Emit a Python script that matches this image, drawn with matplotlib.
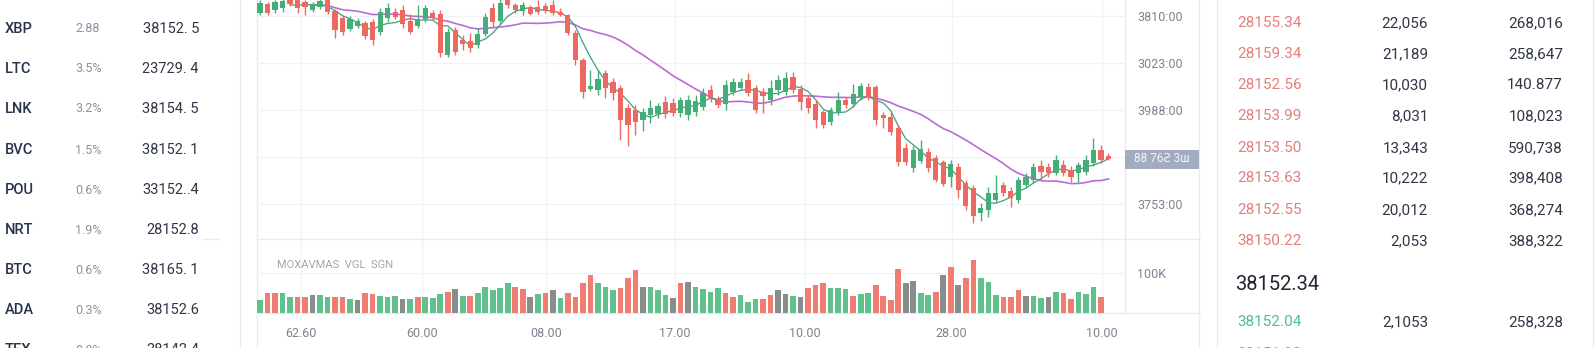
import matplotlib.pyplot as plt
from matplotlib.patches import Rectangle
from matplotlib.transforms import blended_transform_factory
import numpy as np
import pandas as pd

plt.rcParams['font.family'] = ['Roboto', 'DejaVu Sans']

W, H = 1596, 348

# watchlist on the left
symbols = ['XBP', 'LTC', 'LNK', 'BVC', 'POU', 'NRT', 'BTC', 'ADA', 'TEX']
changes = ['2.88', '3.5%', '3.2%', '1.5%', '0.6%', '1.9%', '0.6%', '0.3%', '0.8%']
last_prices = ['38152. 5', '23729. 4', '38154. 5', '38152. 1', '33152..4',
               '28152.8', '38165. 1', '38152.6', '38142.4']

# order book on the right
ask_prices = ['28155.34', '28159.34', '28152.56', '28153.99', '28153.50',
              '28153.63', '28152.55', '38150.22']
ask_sizes = ['22,056', '21,189', '10,030', '8,031', '13,343', '10,222', '20,012', '2,053']
ask_totals = ['268,016', '258,647', '140.877', '108,023', '590,738', '398,408',
              '368,274', '388,322']
mid_price = '38152.34'
bid_prices = ['38152.04', '38151.90']
bid_sizes = ['2,1053', '1,982']
bid_totals = ['258,328', '246,105']

# candles
opens = [3887, 3896, 3890, 3892, 3900, 3900, 3898, 3890, 3893, 3900,
         3889, 3882, 3871, 3874, 3877, 3878, 3868, 3882, 3888, 3890,
         3879, 3874, 3881, 3887, 3886, 3845, 3870, 3860, 3859, 3855,
         3866, 3892, 3879, 3900, 3895, 3889, 3893, 3893, 3894, 3895,
         3888, 3885, 3867, 3840, 3811, 3810, 3827, 3818, 3812, 3792,
         3790, 3780, 3785, 3786, 3798, 3797, 3787, 3785, 3788, 3793,
         3810, 3801, 3796, 3808, 3812, 3820, 3812, 3808, 3800, 3810,
         3808, 3823, 3811, 3802, 3796, 3788, 3778, 3788, 3800, 3796,
         3803, 3813, 3813, 3785, 3783, 3772, 3752, 3732, 3739, 3748,
         3742, 3738, 3723, 3733, 3717, 3712, 3687, 3690, 3700, 3715,
         3709, 3700, 3715, 3720, 3734, 3733, 3727, 3735, 3730, 3727,
         3728, 3737, 3750, 3744]
closes = [3897, 3887, 3898, 3899, 3896, 3892, 3893, 3896, 3899, 3888,
          3870, 3868, 3881, 3879, 3864, 3860, 3888, 3892, 3883, 3876,
          3868, 3881, 3892, 3883, 3847, 3868, 3848, 3856, 3852, 3866,
          3883, 3878, 3897, 3895, 3890, 3895, 3886, 3888, 3889, 3887,
          3885, 3867, 3840, 3808, 3814, 3821, 3812, 3807, 3780, 3775,
          3778, 3788, 3792, 3794, 3786, 3787, 3800, 3800, 3799, 3807,
          3802, 3795, 3815, 3818, 3818, 3807, 3790, 3804, 3812, 3820,
          3822, 3810, 3798, 3792, 3780, 3775, 3790, 3800, 3795, 3806,
          3814, 3803, 3780, 3782, 3768, 3738, 3738, 3750, 3751, 3732,
          3720, 3716, 3736, 3710, 3694, 3684, 3692, 3707, 3707, 3707,
          3702, 3720, 3723, 3733, 3728, 3727, 3740, 3727, 3723, 3735,
          3740, 3750, 3740, 3741]
highs = [3900, 3898, 3900, 3902, 3905, 3903, 3900, 3898, 3902, 3903,
         3891, 3885, 3884, 3882, 3879, 3881, 3892, 3897, 3892, 3895,
         3886, 3895, 3895, 3890, 3890, 3872, 3873, 3865, 3867, 3872,
         3887, 3897, 3902, 3904, 3897, 3898, 3895, 3900, 3897, 3900,
         3892, 3886, 3870, 3842, 3830, 3830, 3830, 3822, 3815, 3796,
         3795, 3792, 3800, 3797, 3804, 3802, 3803, 3805, 3805, 3812,
         3815, 3804, 3820, 3822, 3822, 3827, 3815, 3812, 3820, 3825,
         3828, 3828, 3815, 3805, 3800, 3790, 3793, 3808, 3803, 3816,
         3817, 3817, 3815, 3788, 3788, 3775, 3757, 3754, 3760, 3752,
         3745, 3740, 3740, 3737, 3720, 3715, 3697, 3713, 3725, 3718,
         3713, 3723, 3727, 3737, 3740, 3737, 3745, 3740, 3734, 3738,
         3745, 3762, 3755, 3747]
lows = [3885, 3885, 3887, 3888, 3894, 3887, 3885, 3888, 3891, 3886,
        3862, 3865, 3869, 3872, 3861, 3855, 3865, 3878, 3881, 3872,
        3866, 3872, 3878, 3880, 3843, 3843, 3845, 3850, 3848, 3852,
        3864, 3873, 3876, 3892, 3887, 3885, 3885, 3886, 3887, 3885,
        3884, 3865, 3835, 3802, 3809, 3805, 3802, 3800, 3760, 3754,
        3765, 3769, 3777, 3782, 3782, 3784, 3783, 3780, 3784, 3790,
        3798, 3792, 3790, 3805, 3810, 3804, 3787, 3787, 3795, 3805,
        3805, 3807, 3790, 3787, 3772, 3772, 3775, 3785, 3792, 3793,
        3800, 3800, 3775, 3772, 3765, 3734, 3735, 3728, 3737, 3728,
        3718, 3714, 3713, 3702, 3690, 3677, 3679, 3683, 3698, 3704,
        3693, 3697, 3712, 3717, 3720, 3723, 3725, 3724, 3718, 3718,
        3725, 3734, 3737, 3740]

# volume in thousands, with the side of each bar (g buy, r sell, n neutral)
volumes = [32, 50, 50, 50, 40, 40, 40, 45, 45, 40, 40, 40, 35, 32, 50, 48, 42, 40, 42, 35,
           35, 40, 40, 38, 48, 52, 60, 42, 42, 50, 65, 58, 62, 75, 65, 60, 40, 48, 50, 58,
           38, 50, 40, 75, 95, 75, 65, 58, 62, 88, 108, 65, 65, 58, 45, 38, 75, 78, 65,
           60, 52, 62, 50, 40, 45, 28, 35, 35, 45, 58, 48, 42, 40, 62, 70, 75, 62, 62, 60,
           42, 48, 50, 70, 42, 32, 110, 75, 80, 50, 45, 52, 95, 115, 70, 88, 132, 88, 78, 45,
           40, 40, 58, 42, 42, 38, 40, 52, 50, 35, 52, 48, 65, 40]
vol_side = ('g r r g g r r n g g r r g n r r g g g n g r g g g r n g r g g g g g r r n g r n '
            'g r r r r g g g r r r n g g g n r n g '
            'g g g r r g g g r r n n g n r r r g g g r g g r r r r n n g g r n r n r r g g g '
            'r r r n g g n g r r g g g r').split()

price_ticks = [3884, 3837, 3790, 3743, 3696]
price_tick_labels = ['3810:00', '3023:00', '3988:00', '', '3753:00']
tag_price = 3741
tag_label = '88 76Ƨ 3ш'

time_ticks = [5.5, 21.6, 38.1, 55.3, 72.6, 92.1, 112.1]
time_labels = ['62.60', '60.00', '08.00', '17.00', '10.00', '28.00', '10.00']

UP = '#45ad78'
DOWN = '#ec6861'
VOL_COLORS = {'g': '#62c08d', 'r': '#ef7d72', 'n': '#868d8a'}
LINE = '#e9ebef'
GRID = '#f1f2f5'
AXIS_TXT = '#7d8391'

fig = plt.figure(figsize=(W / 100, H / 100), dpi=100)
fig.patch.set_facecolor('white')

# pixel-space layer for panel borders and side tables
bg = fig.add_axes([0, 0, 1, 1], zorder=0)
bg.set_xlim(0, W)
bg.set_ylim(H, 0)
bg.axis('off')

for x, y0, y1 in [(240, 0, H), (257, 0, H), (1125, 0, 313), (1199, 0, H), (1217, 0, H), (1593, 0, H)]:
    bg.plot([x, x], [y0, y1], color=LINE, lw=1)
for y, x0, x1 in [(239, 257, 1199), (313, 257, 1199), (239, 203, 218)]:
    bg.plot([x0, x1], [y, y], color=LINE, lw=1)

row_y = [29, 69, 109, 150, 190, 230, 270, 310, 350]
for y, s, ch, p in zip(row_y, symbols, changes, last_prices):
    bg.text(5, y, s, fontsize=10.5, color='#27324a', va='center', ha='left', weight='medium')
    bg.text(75, y, ch, fontsize=9, color='#8b919d', va='center', ha='left')
    bg.text(199, y, p, fontsize=10.5, color='#2f3645', va='center', ha='right')

ask_y = [23, 54, 85, 116, 148, 178, 210, 241]
for y, p, s, t in zip(ask_y, ask_prices, ask_sizes, ask_totals):
    bg.text(1237, y, p, fontsize=11, color='#e2807c', va='center', ha='left')
    bg.text(1428, y, s, fontsize=11, color='#2f3645', va='center', ha='right')
    bg.text(1563, y, t, fontsize=11, color='#2f3645', va='center', ha='right')
bg.text(1235, 285, mid_price, fontsize=14.5, color='#1f2533', va='center', ha='left')
for y, p, s, t in zip([322, 354], bid_prices, bid_sizes, bid_totals):
    bg.text(1237, y, p, fontsize=11, color='#4fc08d', va='center', ha='left')
    bg.text(1428, y, s, fontsize=11, color='#2f3645', va='center', ha='right')
    bg.text(1563, y, t, fontsize=11, color='#2f3645', va='center', ha='right')

# price panel
ax = fig.add_axes([257 / W, 1 - 239 / H, 868 / W, 239 / H], zorder=2)
# volume panel
vax = fig.add_axes([257 / W, 1 - 313 / H, 868 / W, 74 / H], zorder=2, sharex=ax)
for a in (ax, vax):
    a.set_facecolor('none')
    for sp in a.spines.values():
        sp.set_visible(False)

o = np.array(opens, dtype=float)
c = np.array(closes, dtype=float)
hi = np.array(highs, dtype=float)
lo = np.array(lows, dtype=float)
idx = np.arange(len(o))
col = np.where(c >= o, UP, DOWN)

ax.vlines(idx, lo, hi, colors=col, lw=1, zorder=3)
ax.bar(idx, np.maximum(np.abs(c - o), 1.5), bottom=np.minimum(o, c), width=0.7,
       color=col, zorder=4)

close_s = pd.Series(closes, dtype=float)
ax.plot(idx, close_s.rolling(20, min_periods=8).mean(), color='#bb6bd6', lw=1.2, zorder=2)
ax.plot(idx, close_s.rolling(5).mean(), color='#3f9f7b', lw=0.9, zorder=2)

ax.set_xlim(-0.4, 115.2)
ax.set_ylim(3661, 3900)
ax.yaxis.tick_right()
ax.set_yticks(price_ticks)
ax.set_yticklabels(price_tick_labels)
ax.tick_params(axis='y', length=0, pad=9, labelsize=9, labelcolor=AXIS_TXT)
ax.tick_params(axis='x', length=0, labelbottom=False)
ax.grid(True, color=GRID, lw=0.9)
ax.set_axisbelow(True)

# last-price tag on the axis
tr = blended_transform_factory(ax.transAxes, ax.transData)
ax.add_patch(Rectangle((1.0, tag_price - 9.5), 74 / 868, 19, transform=tr,
                       facecolor='#a3abbe', edgecolor='none', clip_on=False, zorder=5))
ax.text(1.0 + 37 / 868, tag_price, tag_label, transform=tr, ha='center', va='center',
        fontsize=8.5, color='#f3f5f9', zorder=6)

vidx = np.arange(len(volumes))
vax.bar(vidx, volumes, width=0.75, color=[VOL_COLORS[s] for s in vol_side], zorder=3)
vax.set_ylim(0, 185)
vax.yaxis.tick_right()
vax.set_yticks([100])
vax.set_yticklabels(['100K'])
vax.tick_params(axis='y', length=0, pad=9, labelsize=9, labelcolor=AXIS_TXT)
vax.set_xticks(time_ticks)
vax.set_xticklabels(time_labels)
vax.tick_params(axis='x', length=0, pad=10, labelsize=9, labelcolor=AXIS_TXT)
vax.grid(True, color=GRID, lw=0.9)
vax.set_axisbelow(True)
vax.text(20 / 868, 0.65, 'MOXAVMAS  VGL  SGN', transform=vax.transAxes, fontsize=8,
         color='#a0a5ae', va='center', ha='left')

fig.savefig('out.png', dpi=100)
